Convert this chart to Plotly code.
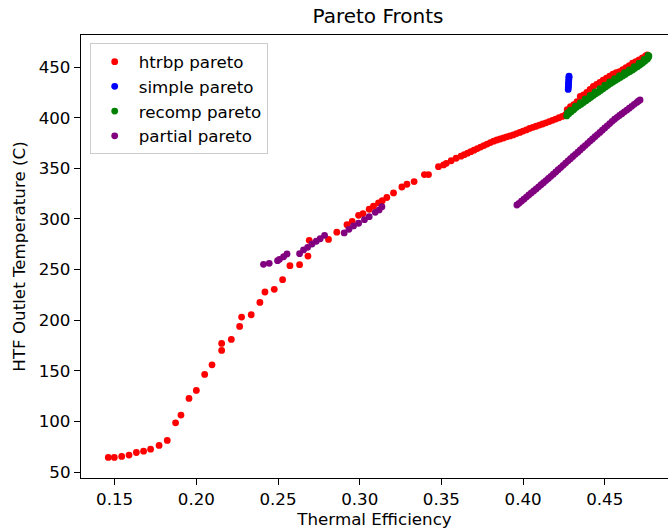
import plotly.graph_objects as go

# ---- data ----
htrbp_x = [0.1461, 0.1498, 0.1543, 0.1588, 0.1633, 0.1677, 0.1720, 0.1772, 0.1822, 0.1873,
           0.1906, 0.1955, 0.2000, 0.2051, 0.2096, 0.2155, 0.2155, 0.2214, 0.2265, 0.2277,
           0.2336, 0.2389, 0.2420, 0.2477, 0.2528, 0.2573, 0.2632, 0.2683, 0.2691, 0.2809,
           0.2860, 0.2922, 0.2954, 0.2993, 0.3020, 0.3058, 0.3084, 0.3115, 0.3138, 0.3166,
           0.3207, 0.3258, 0.3289, 0.3333, 0.3396, 0.3421, 0.3482, 0.3513,
           0.353, 0.356, 0.359, 0.362, 0.364, 0.366, 0.368, 0.370,
           0.372, 0.374, 0.376, 0.378, 0.380, 0.382, 0.384, 0.386, 0.388, 0.390,
           0.392, 0.394, 0.396, 0.398, 0.400, 0.402, 0.404, 0.406, 0.408, 0.410,
           0.412, 0.414, 0.416, 0.418, 0.420, 0.422, 0.424, 0.426,
           0.427, 0.429, 0.431, 0.433, 0.435, 0.437, 0.439, 0.441, 0.443, 0.445,
           0.447, 0.449, 0.451, 0.453, 0.455, 0.457, 0.459, 0.461, 0.463, 0.465,
           0.467, 0.469, 0.471, 0.473, 0.475, 0.476]
htrbp_y = [64.5, 64.5, 65.5, 66.8, 69.4, 70.7, 72.7, 76.4, 81.3, 98.7,
           106.3, 122.8, 130.7, 146.5, 156.0, 170.2, 177.1, 181.1, 193.9, 203.1,
           205.4, 217.6, 227.9, 230.5, 240.1, 253.9, 254.9, 263.4, 278.9, 279.8,
           287.0, 294.4, 297.6, 303.6, 305.3, 309.6, 312.6, 315.9, 318.0, 321.2,
           325.7, 331.6, 334.3, 336.9, 343.9, 343.9, 351.7, 353.4,
           355.0, 357.5, 360.0, 362.0, 363.5, 365.0, 366.5, 368.0,
           369.5, 371.0, 372.5, 374.0, 375.5, 376.8, 378.0, 379.0, 380.0, 381.0,
           382.0, 383.0, 384.3, 385.5, 386.8, 388.0, 389.4, 390.5, 391.6, 392.7,
           393.8, 395.0, 396.2, 397.4, 398.7, 400.0, 401.3, 403.0,
           408.0, 411.0, 413.0, 416.0, 421.0, 422.5, 425.0, 428.0, 431.0, 433.0,
           435.0, 437.0, 439.0, 441.0, 443.0, 444.5, 445.6, 447.5, 449.5, 451.5,
           453.9, 455.5, 457.0, 459.0, 461.0, 462.0]

simple_x = [0.4276, 0.4277, 0.4278, 0.4278, 0.4279, 0.4280, 0.4281, 0.4281]
simple_y = [428.0, 430.0, 432.0, 434.0, 436.0, 438.0, 440.0, 441.0]

recomp_x = [0.4267, 0.4280, 0.4295, 0.4310, 0.4325, 0.4340, 0.4355, 0.4370, 0.4385, 0.4400,
            0.4415, 0.4430, 0.4445, 0.4460, 0.4475, 0.4490, 0.4505, 0.4520, 0.4535, 0.4550,
            0.4565, 0.4580, 0.4595, 0.4610, 0.4625, 0.4640, 0.4655, 0.4670, 0.4685, 0.4700,
            0.4715, 0.4730, 0.4745, 0.4760, 0.4767, 0.4770,
            0.4272, 0.4290, 0.4320, 0.4350, 0.4380, 0.4410, 0.4440, 0.4470, 0.4500, 0.4530,
            0.4560, 0.4590, 0.4620, 0.4650, 0.4680, 0.4710, 0.4740, 0.4765]
recomp_y = [401.8, 404.0, 406.0, 408.0, 410.0, 411.8, 413.3, 415.0, 416.8, 418.5,
            420.2, 422.0, 423.6, 425.2, 427.0, 428.7, 430.4, 432.0, 433.7, 435.3,
            436.8, 438.3, 439.8, 441.3, 442.8, 444.3, 445.6, 447.2, 448.8, 450.4,
            452.0, 453.8, 455.7, 457.8, 459.5, 461.0,
            405.0, 407.5, 411.5, 415.0, 418.5, 422.0, 425.5, 428.8, 432.2, 435.5,
            438.6, 441.5, 444.5, 447.3, 450.5, 454.0, 457.5, 461.5]

partial_x = [0.2411, 0.2446, 0.2497, 0.2509, 0.2534, 0.2555, 0.2632, 0.2656, 0.2681, 0.2708,
             0.2734, 0.2758, 0.2785, 0.2905, 0.2934, 0.2962, 0.2993, 0.3029, 0.3058, 0.3095,
             0.3119, 0.3136,
             0.3962, 0.3975, 0.3990, 0.4005, 0.4020, 0.4035, 0.4050, 0.4065, 0.4080, 0.4095,
             0.4110, 0.4125, 0.4140, 0.4155, 0.4170, 0.4185, 0.4200, 0.4215, 0.4230, 0.4245,
             0.4260, 0.4275, 0.4290, 0.4305, 0.4320, 0.4335, 0.4350, 0.4365, 0.4380, 0.4395,
             0.4410, 0.4425, 0.4440, 0.4455, 0.4470, 0.4485, 0.4500, 0.4515, 0.4530, 0.4545,
             0.4560, 0.4575, 0.4590, 0.4605, 0.4620, 0.4635, 0.4650, 0.4665, 0.4680, 0.4695,
             0.4705, 0.4716]
partial_y = [255.2, 256.2, 258.8, 260.2, 262.7, 265.4, 265.7, 269.4, 272.0, 275.3,
             278.0, 280.5, 283.9, 286.2, 289.8, 293.1, 295.8, 299.3, 302.3, 306.6,
             308.9, 312.2,
             313.8, 315.5, 317.5, 319.6, 321.6, 323.7, 325.7, 327.7, 329.7, 331.8,
             333.8, 335.8, 337.9, 340.0, 342.1, 344.3, 346.4, 348.6, 350.8, 353.0,
             355.2, 357.4, 359.5, 361.7, 363.9, 366.0, 368.2, 370.4, 372.5, 374.7,
             376.9, 379.0, 381.2, 383.4, 385.5, 387.7, 389.9, 392.0, 394.2, 396.4,
             398.5, 400.4, 402.2, 404.0, 405.8, 407.6, 409.4, 411.3, 413.2, 415.0,
             416.3, 417.6]

x_ticks = [0.15, 0.20, 0.25, 0.30, 0.35, 0.40, 0.45]
x_tick_labels = ["0.15", "0.20", "0.25", "0.30", "0.35", "0.40", "0.45"]
y_ticks = [50, 100, 150, 200, 250, 300, 350, 400, 450]

series = [
    ("htrbp pareto", htrbp_x, htrbp_y, "red"),
    ("simple pareto", simple_x, simple_y, "blue"),
    ("recomp pareto", recomp_x, recomp_y, "green"),
    ("partial pareto", partial_x, partial_y, "purple"),
]

FONT = "DejaVu Sans"
FS = 16.7
fig = go.Figure()
for i, (name, xs, ys, col) in enumerate(series):
    fig.add_trace(go.Scatter(
        x=xs, y=ys, mode="markers", name=name, legendgroup=f"g{i}",
        marker=dict(color=col, size=6.8, line=dict(width=0)),
    ))

W, H = 668, 531
L, T, B = 81, 35, 53
fig.update_layout(
    width=W, height=H,
    margin=dict(l=L, r=0, t=T, b=B, pad=0),
    paper_bgcolor="white", plot_bgcolor="white",
    font=dict(family=FONT, size=FS, color="black"),
    title=dict(text="Pareto Fronts", x=378 / W, xref="container", xanchor="center",
               y=1 - 16 / H, yref="container", yanchor="middle",
               font=dict(size=20, family=FONT, color="black")),
    showlegend=True,
    legend=dict(x=(89.7 - L) / (W - L), y=1 - (43.3 - T) / (H - T - B),
                xanchor="left", yanchor="top",
                bgcolor="rgba(255,255,255,0.8)", bordercolor="#cccccc", borderwidth=1,
                font=dict(size=FS, family=FONT), tracegroupgap=0, itemwidth=38,
                traceorder="grouped"),
    xaxis=dict(range=[0.1294, 0.4887], tickvals=x_ticks, ticktext=x_tick_labels,
               showgrid=False, zeroline=False, showline=True, linecolor="black", linewidth=1.3,
               mirror=True, ticks="outside", ticklen=6, tickcolor="black", tickwidth=1.3,
               title=dict(text="Thermal Efficiency", font=dict(size=FS), standoff=4)),
    yaxis=dict(range=[44.2, 481.7], tickvals=y_ticks,
               showgrid=False, zeroline=False, showline=True, linecolor="black", linewidth=1.3,
               mirror=False, ticks="outside", ticklen=6, tickcolor="black", tickwidth=1.3,
               title=dict(text="HTF Outlet Temperature (C)", font=dict(size=FS), standoff=8)),
)

fig.write_html("out.html", config={"displayModeBar": False},
               post_script="document.body.style.margin='0';"
                           "document.documentElement.style.overflow='hidden';")
